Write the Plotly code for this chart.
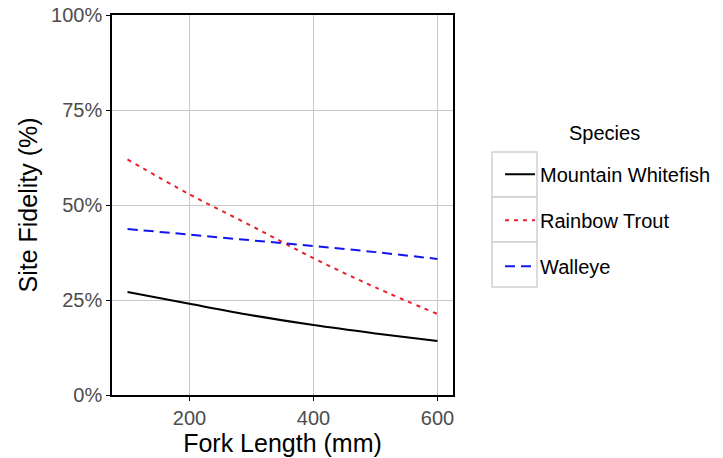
import plotly.graph_objects as go

fork_length = [100, 200, 300, 400, 500, 600]
species = ["Mountain Whitefish", "Rainbow Trout", "Walleye"]
whitefish = [0.271, 0.240, 0.210, 0.184, 0.162, 0.142]
rainbow = [0.620, 0.528, 0.445, 0.360, 0.283, 0.213]
walleye = [0.437, 0.422, 0.407, 0.392, 0.376, 0.358]
values = [whitefish, rainbow, walleye]
colors = ["black", "#EE1C2A", "#1414F0"]
dashes = ["solid", "4px,5px", "10px,6px"]

x_ticks = [200, 400, 600]
y_ticks = [0, 0.25, 0.5, 0.75, 1.0]
y_ticklabels = ["0%", "25%", "50%", "75%", "100%"]

fig = go.Figure()
for name, vals, c, d in zip(species, values, colors, dashes):
    fig.add_trace(go.Scatter(
        x=fork_length, y=vals, mode="lines", name=name, legendgroup=name,
        line=dict(color=c, width=2, dash=d, shape="spline"),
    ))

# legend key boxes (decoration, paper coordinates)
key_x0, key_x1 = 1.1144, 1.2463
key_edges = [0.6395, 0.521, 0.4026, 0.2842]
for top, bot in zip(key_edges[:-1], key_edges[1:]):
    fig.add_shape(type="rect", xref="paper", yref="paper",
                  x0=key_x0, x1=key_x1, y0=bot, y1=top,
                  line=dict(color="#D0D0D0", width=1.5), fillcolor="white", layer="below")

# legend title
fig.add_annotation(text="Species", xref="paper", yref="paper", x=1.445, y=0.69,
                   xanchor="center", yanchor="middle", showarrow=False,
                   font=dict(size=20, color="black"))

font = "Liberation Sans, Arial, sans-serif"
fig.update_layout(
    width=723, height=458,
    margin=dict(l=112, r=270, t=15, b=63),
    paper_bgcolor="white", plot_bgcolor="white",
    font=dict(family=font, color="black"),
    xaxis=dict(
        range=[75, 625], tickvals=x_ticks, showgrid=True, gridcolor="#C8C8C8", gridwidth=1,
        ticks="outside", ticklen=4, tickcolor="black", automargin=False,
        tickfont=dict(size=20, color="#4D4D4D"),
        title=dict(text="Fork Length (mm)", font=dict(size=25, color="black"), standoff=0),
        showline=True, linecolor="black", linewidth=1.5, mirror=True, zeroline=False,
    ),
    yaxis=dict(
        range=[0, 1], tickvals=y_ticks, ticktext=y_ticklabels, showgrid=True,
        gridcolor="#C8C8C8", gridwidth=1,
        ticks="outside", ticklen=4, tickcolor="black", automargin=False,
        tickfont=dict(size=20, color="#4D4D4D"),
        title=dict(text="Site Fidelity (%)", font=dict(size=25, color="black"), standoff=6),
        showline=True, linecolor="black", linewidth=1.5, mirror=True, zeroline=False,
    ),
    legend=dict(
        xref="container", x=0.6916, y=0.632, xanchor="left", yanchor="top",
        font=dict(size=20, color="black"),
        itemwidth=30, tracegroupgap=17,
        bgcolor="rgba(0,0,0,0)",
    ),
)

fig.write_html("out.html")
